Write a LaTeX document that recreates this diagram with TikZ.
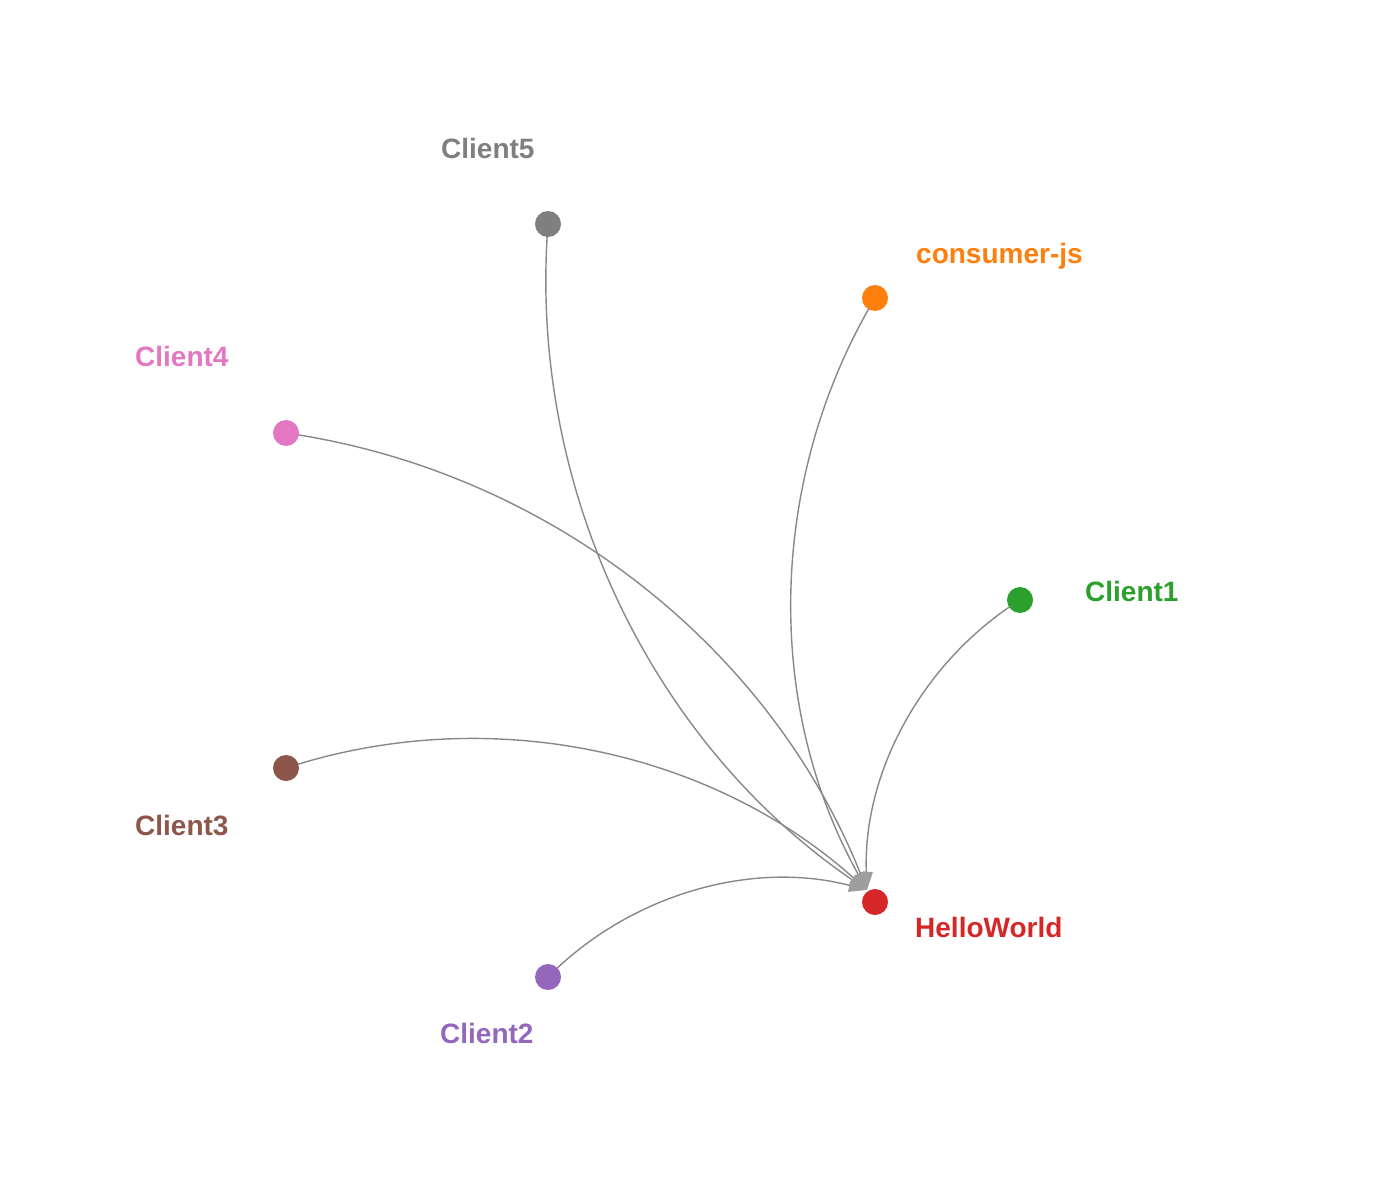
\documentclass[tikz,border=0pt]{standalone}
\usepackage{fontspec}
\setmainfont{Liberation Sans}
\usetikzlibrary{arrows.meta}
\definecolor{corange}{HTML}{FF7F0E}
\definecolor{cgreen}{HTML}{2CA02C}
\definecolor{cred}{HTML}{D62728}
\definecolor{cpurple}{HTML}{9467BD}
\definecolor{cbrown}{HTML}{8C564B}
\definecolor{cpink}{HTML}{E377C2}
\definecolor{cgrey}{HTML}{7F7F7F}
\definecolor{edgegray}{HTML}{888888}
\definecolor{arrowgray}{HTML}{9E9E9E}
\pgfdeclarelayer{edges}
\pgfsetlayers{edges,main}
\tikzset{
  dot/.style={circle, inner sep=0pt, minimum size=26pt, draw=none, fill=#1},
  lbl/.style={anchor=base west, inner sep=0pt, text=#1, font=\fontsize{28}{34}\selectfont\bfseries},
  edge/.style={draw=edgegray, line width=1.4pt, -{Triangle[length=18pt,width=13pt,color=arrowgray]}, looseness=0.91}
}
\begin{document}
\begin{tikzpicture}[x=1pt,y=-1pt]
\useasboundingbox (0,0) rectangle (1400,1204);
% nodes
\node[dot=cgrey]   (c5) at (548,224) {};
\node[dot=corange] (cj) at (875,298) {};
\node[dot=cpink]   (c4) at (286,433) {};
\node[dot=cgreen]  (c1) at (1020,600) {};
\node[dot=cbrown]  (c3) at (286,768) {};
\node[dot=cpurple] (c2) at (548,977) {};
\coordinate (hwin) at (867,890);
% labels
\node[lbl=cgrey]   (l5) at (441,158) {Client5};
\node[lbl=corange] (lj) at (916,263) {consumer-js};
\node[lbl=cpink]   (l4) at (135,366) {Client4};
\node[lbl=cgreen]  (l1) at (1085,601) {Client1};
\node[lbl=cbrown]  (l3) at (135,835) {Client3};
\node[lbl=cred]    (lh) at (915,937) {HelloWorld};
\node[lbl=cpurple] (l2) at (440,1043) {Client2};
% edges
\begin{pgfonlayer}{edges}
\draw[edge] (c5.center) to[bend right=30] (hwin);
\draw[edge] (cj.center) to[bend right=30] (hwin);
\draw[edge] (c1.center) to[bend right=30] (hwin);
\draw[edge] (c4.center) to[bend left=30] (hwin);
\draw[edge] (c3.center) to[bend left=30] (hwin);
\draw[edge] (c2.center) to[bend left=30] (hwin);
\end{pgfonlayer}
\node[dot=cred] (hw) at (875,902) {};
\end{tikzpicture}
\end{document}
